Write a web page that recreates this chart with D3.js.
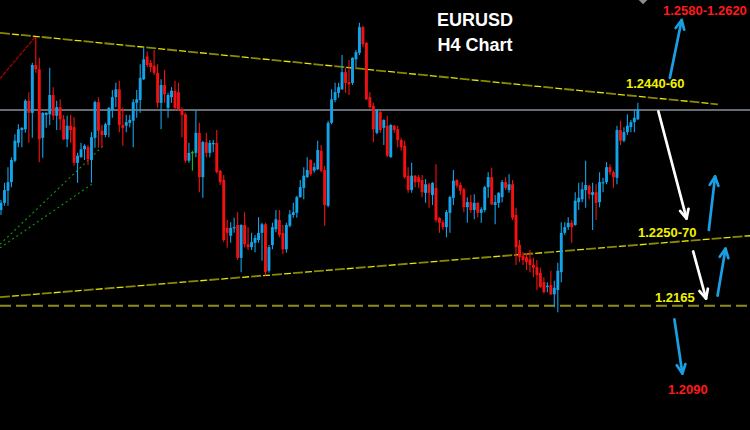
<!DOCTYPE html>
<html><head><meta charset="utf-8">
<script src="https://cdn.jsdelivr.net/npm/d3@7"></script>
<style>html,body{margin:0;padding:0;background:#000;overflow:hidden}</style>
</head><body>
<svg id="c" width="750" height="430"></svg>
<script>
// ---- Candle data (EURUSD H4) ----
const openP = [
1.2299,1.2309,1.2326,1.2338,1.2368,1.2393,1.2411,1.2412,1.2452,1.2435,
1.2502,1.2496,1.2400,1.2432,1.2433,1.2460,1.2431,1.2443,1.2426,1.2398,
1.2417,1.2415,1.2365,1.2373,1.2384,1.2387,1.2369,1.2400,1.2450,1.2410,
1.2404,1.2418,1.2439,1.2457,1.2468,1.2418,1.2417,1.2421,1.2424,1.2449,
1.2453,1.2482,1.2514,1.2505,1.2501,1.2491,1.2449,1.2474,1.2442,1.2457,
1.2466,1.2464,1.2440,1.2433,1.2368,1.2380,1.2379,1.2407,1.2345,1.2394,
1.2379,1.2391,1.2393,1.2354,1.2341,1.2274,1.2263,1.2274,1.2278,1.2232,
1.2278,1.2251,1.2247,1.2253,1.2257,1.2267,1.2279,1.2214,1.2250,1.2272,
1.2285,1.2267,1.2244,1.2277,1.2292,1.2295,1.2317,1.2330,1.2345,1.2369,
1.2354,1.2356,1.2382,1.2355,1.2305,1.2421,1.2453,1.2463,1.2468,1.2492,
1.2478,1.2477,1.2510,1.2519,1.2555,1.2533,1.2457,1.2445,1.2407,1.2436,
1.2414,1.2417,1.2373,1.2417,1.2412,1.2397,1.2389,1.2347,1.2327,1.2347,
1.2345,1.2341,1.2323,1.2335,1.2320,1.2330,1.2288,1.2282,1.2275,1.2295,
1.2316,1.2341,1.2334,1.2328,1.2303,1.2310,1.2299,1.2309,1.2295,1.2299,
1.2331,1.2345,1.2306,1.2309,1.2317,1.2338,1.2327,1.2335,1.2292,1.2250,
1.2235,1.2233,1.2230,1.2222,1.2219,1.2211,1.2198,1.2191,1.2194,1.2181,
1.2187,1.2212,1.2267,1.2275,1.2281,1.2278,1.2310,1.2314,1.2327,1.2333,
1.2320,1.2324,1.2310,1.2337,1.2338,1.2359,1.2352,1.2344,1.2411,1.2396,
1.2408,1.2415,1.2422,1.2426];
const highP = [
1.2313,1.2337,1.2359,1.2373,1.2405,1.2419,1.2415,1.2454,1.2464,1.2505,
1.2541,1.2512,1.2436,1.2436,1.2498,1.2471,1.2452,1.2454,1.2432,1.2431,
1.2432,1.2429,1.2379,1.2393,1.2391,1.2390,1.2408,1.2452,1.2457,1.2418,
1.2421,1.2443,1.2467,1.2477,1.2480,1.2442,1.2432,1.2432,1.2454,1.2467,
1.2503,1.2527,1.2521,1.2509,1.2523,1.2503,1.2482,1.2495,1.2463,1.2471,
1.2480,1.2477,1.2443,1.2435,1.2393,1.2382,1.2439,1.2421,1.2396,1.2407,
1.2397,1.2397,1.2411,1.2355,1.2348,1.2285,1.2282,1.2288,1.2296,1.2279,
1.2296,1.2275,1.2267,1.2264,1.2289,1.2281,1.2281,1.2250,1.2281,1.2299,
1.2299,1.2278,1.2281,1.2299,1.2309,1.2319,1.2341,1.2359,1.2373,1.2370,
1.2365,1.2396,1.2390,1.2361,1.2424,1.2468,1.2477,1.2477,1.2516,1.2498,
1.2509,1.2513,1.2523,1.2561,1.2557,1.2534,1.2464,1.2449,1.2440,1.2438,
1.2426,1.2431,1.2419,1.2418,1.2417,1.2400,1.2396,1.2359,1.2365,1.2348,
1.2348,1.2348,1.2342,1.2337,1.2338,1.2363,1.2289,1.2285,1.2299,1.2319,
1.2355,1.2342,1.2338,1.2330,1.2317,1.2320,1.2321,1.2310,1.2303,1.2333,
1.2352,1.2358,1.2320,1.2324,1.2341,1.2345,1.2349,1.2341,1.2302,1.2257,
1.2240,1.2239,1.2243,1.2232,1.2229,1.2218,1.2205,1.2198,1.2214,1.2200,
1.2225,1.2282,1.2282,1.2289,1.2285,1.2324,1.2337,1.2338,1.2368,1.2334,
1.2337,1.2335,1.2352,1.2344,1.2366,1.2363,1.2354,1.2417,1.2424,1.2415,
1.2433,1.2425,1.2439,1.2449];
const lowP = [
1.2292,1.2305,1.2305,1.2331,1.2366,1.2387,1.2387,1.2407,1.2393,1.2400,
1.2491,1.2366,1.2372,1.2414,1.2418,1.2425,1.2411,1.2411,1.2397,1.2387,
1.2393,1.2361,1.2337,1.2372,1.2369,1.2362,1.2337,1.2386,1.2386,1.2387,
1.2401,1.2401,1.2428,1.2443,1.2408,1.2389,1.2408,1.2415,1.2387,1.2428,
1.2435,1.2481,1.2499,1.2492,1.2488,1.2442,1.2412,1.2449,1.2428,1.2449,
1.2439,1.2438,1.2401,1.2365,1.2365,1.2354,1.2373,1.2324,1.2316,1.2373,
1.2373,1.2380,1.2350,1.2334,1.2254,1.2246,1.2253,1.2267,1.2229,1.2212,
1.2247,1.2243,1.2243,1.2240,1.2253,1.2228,1.2207,1.2211,1.2244,1.2268,
1.2261,1.2237,1.2239,1.2275,1.2288,1.2288,1.2316,1.2314,1.2344,1.2347,
1.2351,1.2355,1.2352,1.2277,1.2303,1.2419,1.2450,1.2456,1.2467,1.2463,
1.2460,1.2474,1.2499,1.2516,1.2527,1.2453,1.2441,1.2394,1.2405,1.2407,
1.2390,1.2373,1.2372,1.2407,1.2387,1.2382,1.2343,1.2323,1.2323,1.2331,
1.2330,1.2317,1.2309,1.2302,1.2306,1.2282,1.2267,1.2271,1.2261,1.2267,
1.2306,1.2330,1.2320,1.2296,1.2281,1.2295,1.2286,1.2289,1.2281,1.2296,
1.2316,1.2306,1.2279,1.2302,1.2310,1.2327,1.2323,1.2285,1.2222,1.2226,
1.2222,1.2215,1.2212,1.2205,1.2187,1.2190,1.2182,1.2184,1.2180,1.2163,
1.2156,1.2198,1.2264,1.2271,1.2253,1.2277,1.2299,1.2310,1.2302,1.2314,
1.2271,1.2285,1.2303,1.2324,1.2335,1.2348,1.2330,1.2335,1.2390,1.2394,
1.2404,1.2408,1.2408,1.2425];
const closeP = [
1.2309,1.2327,1.2338,1.2369,1.2396,1.2412,1.2414,1.2452,1.2435,1.2502,
1.2496,1.2398,1.2435,1.2435,1.2460,1.2431,1.2443,1.2426,1.2398,1.2417,
1.2411,1.2365,1.2375,1.2384,1.2389,1.2370,1.2401,1.2450,1.2410,1.2404,
1.2419,1.2442,1.2457,1.2468,1.2418,1.2414,1.2422,1.2425,1.2450,1.2454,
1.2484,1.2510,1.2502,1.2499,1.2491,1.2449,1.2474,1.2461,1.2460,1.2466,
1.2442,1.2440,1.2432,1.2368,1.2379,1.2380,1.2407,1.2345,1.2394,1.2379,
1.2393,1.2393,1.2352,1.2338,1.2257,1.2267,1.2274,1.2275,1.2232,1.2278,
1.2251,1.2247,1.2254,1.2260,1.2267,1.2279,1.2212,1.2247,1.2275,1.2286,
1.2264,1.2244,1.2278,1.2293,1.2296,1.2317,1.2331,1.2347,1.2355,1.2349,
1.2359,1.2383,1.2354,1.2306,1.2421,1.2454,1.2464,1.2471,1.2492,1.2477,
1.2475,1.2512,1.2520,1.2555,1.2531,1.2454,1.2443,1.2412,1.2439,1.2411,
1.2425,1.2375,1.2418,1.2411,1.2397,1.2387,1.2345,1.2327,1.2347,1.2338,
1.2338,1.2324,1.2335,1.2323,1.2337,1.2285,1.2281,1.2275,1.2296,1.2317,
1.2340,1.2333,1.2326,1.2303,1.2310,1.2299,1.2309,1.2295,1.2300,1.2331,
1.2345,1.2307,1.2310,1.2323,1.2338,1.2330,1.2335,1.2288,1.2247,1.2233,
1.2229,1.2226,1.2222,1.2218,1.2208,1.2191,1.2184,1.2193,1.2181,1.2190,
1.2214,1.2267,1.2275,1.2281,1.2275,1.2312,1.2316,1.2328,1.2334,1.2321,
1.2324,1.2309,1.2338,1.2338,1.2359,1.2352,1.2345,1.2411,1.2396,1.2408,
1.2417,1.2422,1.2428,1.2440];

// ---- Title ----
const titleLines = ["EURUSD", "H4 Chart"];

// ---- Levels & trend lines (bar index, price) ----
const pivotLevel = 1.2439;
const supportLevel = 1.2165;
const upperTrendIdx = [-0.3, 206];
const upperTrendPrice = [1.2547, 1.2447];
const lowerTrendIdx = [-0.3, 215.3];
const lowerTrendPrice = [1.2177, 1.2263];
const redLineIdx = [-0.3, 9.8];
const redLinePrice = [1.2483, 1.2541];
const greenAIdx = [-0.3, 29.4];
const greenAPrice = [1.2251, 1.2389];
const greenBIdx = [-0.3, 26.1];
const greenBPrice = [1.2246, 1.2335];

// ---- Scenario arrows ----
const arrowStartIdx   = [192.2, 188.9, 203.4, 198.9, 205.9, 193.5];
const arrowStartPrice = [1.2484, 1.2437, 1.2271, 1.2241, 1.2179, 1.2146];
const arrowEndIdx     = [195.6, 197.0, 205.2, 202.6, 208.2, 195.8];
const arrowEndPrice   = [1.2565, 1.2287, 1.2346, 1.2175, 1.2245, 1.2070];
const arrowRole       = ["target", "path", "target", "path", "target", "target"];

// ---- Level labels ----
const labelTexts = ["1.2580-1.2620", "1.2440-60", "1.2250-70", "1.2165", "1.2090"];
const labelRole  = ["target", "level", "level", "level", "target"];

const markerIdx = [184.5];
const markerPrice = [1.2594];

// ================= drawing =================
const W = 750, H = 430;
const svg = d3.select("#c");
svg.append("rect").attr("width", W).attr("height", H).attr("fill", "#000");

const x = d3.scaleLinear().domain([0, 215]).range([1, 749.2]);
const y = d3.scaleLinear().domain([1.1991, 1.2593]).range([H, 0]);
const line = d3.line().x(d => x(d[0])).y(d => y(d[1]));
const pts = (ix, pr) => ix.map((v, k) => [v, pr[k]]);

const BLUE = "#12a3e8", RED = "#f31010", GREEN = "#10c010";

// pivot gray line
svg.append("line").attr("x1", 0).attr("x2", W)
  .attr("y1", y(pivotLevel)).attr("y2", y(pivotLevel))
  .attr("stroke", "#676b74").attr("stroke-width", 1.8);

// green dotted channel lines
[[greenAIdx, greenAPrice], [greenBIdx, greenBPrice]].forEach(([ix, pr]) => {
  svg.append("path").attr("d", line(pts(ix, pr))).attr("fill", "none")
    .attr("stroke", "#119a11").attr("stroke-width", 1.1).attr("stroke-dasharray", "2,3");
});

// red line to the first high
svg.append("path").attr("d", line(pts(redLineIdx, redLinePrice))).attr("fill", "none")
  .attr("stroke", "#b00000").attr("stroke-width", 1.2).attr("stroke-dasharray", "4,1");

// yellow trend lines (two-tone dashes)
[[upperTrendIdx, upperTrendPrice], [lowerTrendIdx, lowerTrendPrice]].forEach(([ix, pr]) => {
  const d = line(pts(ix, pr));
  svg.append("path").attr("d", d).attr("fill", "none")
    .attr("stroke", "#8a8a00").attr("stroke-width", 1.8).attr("stroke-dasharray", "10,11");
  svg.append("path").attr("d", d).attr("fill", "none")
    .attr("stroke", "#e8e800").attr("stroke-width", 1.3).attr("stroke-dasharray", "7,14")
    .attr("stroke-dashoffset", -12);
});

// support dashed level
svg.append("line").attr("x1", 0).attr("x2", W)
  .attr("y1", y(supportLevel)).attr("y2", y(supportLevel))
  .attr("stroke", "#8f8f12").attr("stroke-width", 2).attr("stroke-dasharray", "11,5");

// candles
const candles = openP.map((o, i) => ({ i, o, h: highP[i], l: lowP[i], c: closeP[i] }));
const col = d => d.c > d.o ? BLUE : (d.c < d.o ? RED : GREEN);
const cg = svg.append("g");
cg.selectAll("line.w").data(candles).join("line").attr("class", "w")
  .attr("x1", d => x(d.i)).attr("x2", d => x(d.i))
  .attr("y1", d => y(d.h)).attr("y2", d => y(d.l))
  .attr("stroke", col).attr("stroke-width", 1.1);
cg.selectAll("rect.b").data(candles).join("rect").attr("class", "b")
  .attr("x", d => x(d.i) - 1.45).attr("width", 2.9)
  .attr("y", d => Math.min(y(d.o), y(d.c)))
  .attr("height", d => Math.max(1.2, Math.abs(y(d.o) - y(d.c))))
  .attr("fill", col);

// small gray marker at top
markerIdx.forEach((mi, k) => {
  const cx = x(mi), cy = y(markerPrice[k]);
  svg.append("path").attr("d", `M${cx - 5},${cy} L${cx + 5},${cy} L${cx},${cy + 5} Z`)
    .attr("fill", "#8c8c8c");
});

// arrows
arrowStartIdx.forEach((si, k) => {
  const x1 = x(si), y1 = y(arrowStartPrice[k]);
  const x2 = x(arrowEndIdx[k]), y2 = y(arrowEndPrice[k]);
  const color = arrowRole[k] === "target" ? "#1a9fe3" : "#ffffff";
  const a = Math.atan2(y2 - y1, x2 - x1), L = 10, s = 0.45;
  const g = svg.append("g").attr("stroke", color).attr("fill", "none")
    .attr("stroke-width", 2.7).attr("stroke-linecap", "round").attr("stroke-linejoin", "round");
  g.append("line").attr("x1", x1).attr("y1", y1).attr("x2", x2).attr("y2", y2);
  g.append("polyline").attr("points", [
    [x2 - L * Math.cos(a - s), y2 - L * Math.sin(a - s)],
    [x2, y2],
    [x2 - L * Math.cos(a + s), y2 - L * Math.sin(a + s)]
  ].map(p => p.join(",")).join(" "));
});

// title
const titleY = [26, 51];
svg.selectAll("text.t").data(titleLines).join("text").attr("class", "t")
  .attr("x", 475).attr("y", (d, i) => titleY[i])
  .attr("text-anchor", "middle")
  .attr("font-family", "'Liberation Sans', Arial, sans-serif")
  .attr("font-weight", "bold").attr("font-size", 18).attr("fill", "#ffffff")
  .text(d => d);

// labels
const labelX = [663, 626, 638, 655, 668];
const labelY = [15, 88, 237, 302, 394];
svg.selectAll("text.l").data(labelTexts).join("text").attr("class", "l")
  .attr("x", (d, i) => labelX[i]).attr("y", (d, i) => labelY[i])
  .attr("font-family", "'Liberation Sans', Arial, sans-serif")
  .attr("font-weight", "bold").attr("font-size", 13)
  .attr("fill", (d, i) => labelRole[i] === "target" ? "#ff1a1a" : "#f2f200")
  .text(d => d);
</script>
</body></html>
